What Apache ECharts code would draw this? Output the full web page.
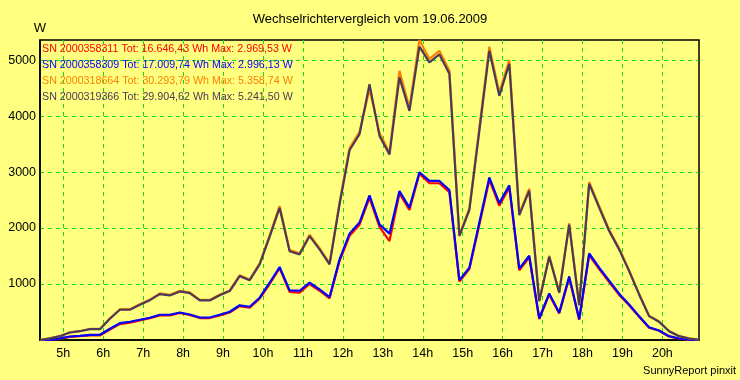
<!DOCTYPE html>
<html>
<head>
<meta charset="utf-8">
<script src="https://cdn.jsdelivr.net/npm/echarts@6/dist/echarts.min.js"></script>
<style>
html,body{margin:0;padding:0;background:#FFFF80;}
#chart{width:740px;height:380px;}
</style>
</head>
<body>
<div id="chart"></div>
<script>
// ---- data ----
const times = [
  "04:25","04:40","04:55","05:10","05:25","05:40","05:55","06:10","06:25","06:40","06:55","07:10",
  "07:25","07:40","07:55","08:10","08:25","08:40","08:55","09:10","09:25","09:40","09:55","10:10",
  "10:25","10:40","10:55","11:10","11:25","11:40","11:55","12:10","12:25","12:40","12:55","13:10",
  "13:25","13:40","13:55","14:10","14:25","14:40","14:55","15:10","15:25","15:40","15:55","16:10",
  "16:25","16:40","16:55","17:10","17:25","17:40","17:55","18:10","18:25","18:40","18:55","19:10",
  "19:25","19:40","19:55","20:10","20:25","20:40","20:55"
];
const hourTicks = [5,6,7,8,9,10,11,12,13,14,15,16,17,18,19,20];
const yTicks = [1000,2000,3000,4000,5000];

const serials = ["SN 2000358311","SN 2000358309","SN 2000318664","SN 2000319366"];
const totals  = ["16.646,43","17.009,74","30.293,79","29.904,62"];
const maxima  = ["2.969,53","2.996,13","5.358,74","5.241,50"];

const sn358311 = [0,0,25,55,68,80,80,185,285,310,350,388,
  440,440,482,447,392,392,440,492,605,578,740,1000,
  1280,860,844,1000,880,745,1410,1860,2060,2540,2020,1768,
  2620,2323,2970,2800,2800,2640,1045,1265,2060,2860,2400,2720,
  1245,1475,375,810,475,1110,362,1515,1265,1035,805,620,
  415,220,165,62,22,3,0];
const sn358309 = [0,0,30,63,75,93,93,200,300,326,361,397,
  451,451,492,456,402,402,451,505,620,594,755,1023,
  1303,886,880,1023,903,766,1440,1900,2097,2585,2066,1900,
  2662,2365,2996,2841,2841,2680,1070,1291,2100,2905,2445,2764,
  1275,1505,388,830,487,1136,373,1545,1291,1060,826,635,
  426,229,170,68,27,5,0];
const sn318664 = [0,32,72,138,160,197,197,388,550,550,640,722,
  832,806,880,850,716,716,812,885,1158,1082,1370,1870,
  2395,1605,1550,1880,1640,1368,2455,3430,3720,4480,3700,3350,
  4808,4150,5358.74,5020,5165,4815,1880,2350,3790,5238,4420,5000,
  2260,2705,705,1505,855,2085,630,2822,2395,1972,1640,1248,
  825,432,330,160,70,28,5];
const sn319366 = [0,30,68,134,157,193,193,379,540,540,630,712,
  820,796,868,838,707,707,800,874,1141,1068,1351,1845,
  2360,1586,1530,1857,1619,1351,2420,3390,3676,4570,3646,3312,
  4691,4093,5241.5,4959,5100,4756,1857,2320,3735,5166,4361,4935,
  2230,2668,694,1485,844,2060,620,2790,2365,1947,1619,1231,
  814,426,326,157,68,27,5];

const seriesValues = [sn358311, sn358309, sn318664, sn319366];
const colors = ["#FF0000","#0000FF","#FF8000","#4A3A58"];

// ---- build ----
function toHours(t){ const p = t.split(":"); return +p[0] + (+p[1])/60; }
const xs = times.map(toHours);
const yMax = Math.max.apply(null, seriesValues.map(a => Math.max.apply(null, a)));

const FONT = "Liberation Sans, Arial, sans-serif";
const chart = echarts.init(document.getElementById('chart'), null, {renderer:'canvas'});

const series = serials.map((name, i) => ({
  name: name,
  type: 'line',
  data: xs.map((x, j) => [x, seriesValues[i][j]]),
  showSymbol: false,
  symbol: 'none',
  lineStyle: { color: colors[i], width: 2.2 },
  itemStyle: { color: colors[i] },
  z: 2 + i,
  animation: false
}));

chart.setOption({
  backgroundColor: '#FFFF80',
  animation: false,
  textStyle: { fontFamily: FONT },
  title: {
    text: 'Wechselrichtervergleich vom 19.06.2009',
    left: 'center',
    top: 13,
    padding: 0,
    textStyle: { fontSize: 13, fontWeight: 'normal', color: '#000', fontFamily: FONT }
  },
  legend: {
    orient: 'vertical',
    left: 37,
    top: 43,
    padding: 0,
    icon: 'none',
    itemWidth: 0,
    itemHeight: 12,
    itemGap: 4,
    selectedMode: false,
    data: serials.map((s, i) => ({ name: s, textStyle: { color: colors[i] } })),
    formatter: function(name){
      const i = serials.indexOf(name);
      return name + ' Tot: ' + totals[i] + ' Wh Max: ' + maxima[i] + ' W';
    },
    textStyle: { fontSize: 10.7, lineHeight: 12, fontFamily: FONT }
  },
  grid: {
    left: 40, top: 40, right: 41, bottom: 40,
    show: true,
    backgroundColor: '#FFFF80',
    borderColor: '#000',
    borderWidth: 1.5
  },
  xAxis: {
    type: 'value',
    min: xs[0],
    max: xs[xs.length - 1],
    axisLine: { show: true, lineStyle: { color: '#000', width: 1.5 } },
    axisTick: { show: false, customValues: hourTicks },
    axisLabel: {
      customValues: hourTicks,
      formatter: v => v + 'h',
      color: '#000', fontSize: 12.5, margin: 7, fontFamily: FONT
    },
    splitLine: { show: true, lineStyle: { color: '#11DD11', type: [4, 4], width: 1 } }
  },
  yAxis: {
    type: 'value',
    min: 0,
    max: yMax,
    name: 'W',
    nameGap: 5,
    nameTextStyle: { color: '#000', fontSize: 13, fontFamily: FONT },
    axisLine: { show: true, lineStyle: { color: '#000', width: 1.5 } },
    axisTick: { show: false, customValues: yTicks },
    axisLabel: {
      customValues: yTicks,
      formatter: v => String(v),
      color: '#000', fontSize: 12.5, margin: 4, fontFamily: FONT
    },
    splitLine: { show: true, lineStyle: { color: '#11DD11', type: [4, 4], width: 1 } }
  },
  graphic: [{
    type: 'text',
    right: 4,
    top: 365,
    style: { text: 'SunnyReport pinxit', font: '11px ' + FONT, fill: '#000' }
  }],
  series: series
});
</script>
</body>
</html>
